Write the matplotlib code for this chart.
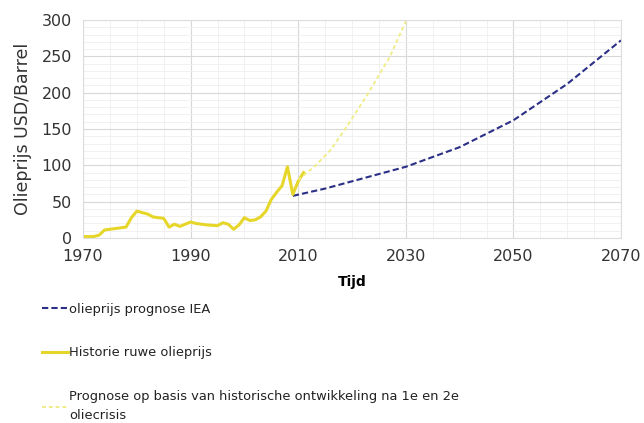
import matplotlib
matplotlib.use("Agg")
import matplotlib.pyplot as plt
from matplotlib.ticker import MultipleLocator

# Historie ruwe olieprijs
hist_years = [1970, 1972, 1973, 1974, 1976, 1978, 1979, 1980, 1981, 1982, 1983, 1984,
              1985, 1986, 1987, 1988, 1990, 1991, 1993, 1995, 1996, 1997, 1998, 1999,
              2000, 2001, 2002, 2003, 2004, 2005, 2006, 2007, 2008, 2009, 2010, 2011]
hist_price = [2, 2, 4, 11, 13, 15, 28, 37, 35, 33, 29, 28,
              27, 15, 19, 16, 22, 20, 18, 17, 21, 19, 12, 18,
              28, 24, 25, 29, 37, 53, 63, 72, 98, 60, 78, 90]

# Prognose op basis van historische ontwikkeling
prog_years = [2010, 2013, 2016, 2019, 2023, 2027, 2030]
prog_price = [80, 98, 121, 153, 199, 249, 298]

# Olieprijs prognose IEA
iea_years = [2009, 2015, 2020, 2030, 2040, 2050, 2060, 2070]
iea_price = [58, 68, 78, 98, 125, 162, 212, 272]

x_ticks = [1970, 1990, 2010, 2030, 2050, 2070]

fig = plt.figure(figsize=(6.44, 4.23), dpi=100)
ax = fig.add_axes([83 / 644, 1 - 238 / 423, (621 - 83) / 644, (238 - 20) / 423])

l_iea, = ax.plot(iea_years, iea_price, color="#2b2f86", lw=1.5, ls=(0, (3, 1.5)),
                 label="olieprijs prognose IEA")
l_hist, = ax.plot(hist_years, hist_price, color="#e6d62a", lw=2.2,
                  label="Historie ruwe olieprijs")
l_prog, = ax.plot(prog_years, prog_price, color="#f0ec88", lw=1.4, ls=(0, (2, 1.5)),
                  label="Prognose op basis van historische ontwikkeling na 1e en 2e\noliecrisis")

ax.set_xlim(1970, 2070)
ax.set_ylim(0, 300)
ax.set_xticks(x_ticks)
ax.yaxis.set_major_locator(MultipleLocator(50))
ax.xaxis.set_minor_locator(MultipleLocator(5))
ax.yaxis.set_minor_locator(MultipleLocator(10))
ax.grid(True, which="major", color="#d8d8d8", lw=0.8)
ax.grid(True, which="minor", color="#efefef", lw=0.6)
ax.tick_params(which="both", length=0, labelsize=11.5, colors="#333333")
ax.tick_params(axis="x", pad=8)
ax.tick_params(axis="y", pad=8)
for s in ax.spines.values():
    s.set_color("#dddddd")

ax.set_xlabel("Tijd", fontsize=10, fontweight="bold", labelpad=8)
ax.set_ylabel("Olieprijs USD/Barrel", fontsize=12.5, labelpad=7, color="#333333")

leg = fig.legend(handles=[l_iea, l_hist, l_prog], loc="upper left",
                 bbox_to_anchor=(30 / 644, 1 - 291 / 423), frameon=False,
                 fontsize=9.4, labelspacing=2.35, handlelength=2.0, handletextpad=0.1)
for t in leg.get_texts():
    t.set_linespacing(1.6)
    t.set_color("#222222")

fig.savefig("out.png", dpi=100)
